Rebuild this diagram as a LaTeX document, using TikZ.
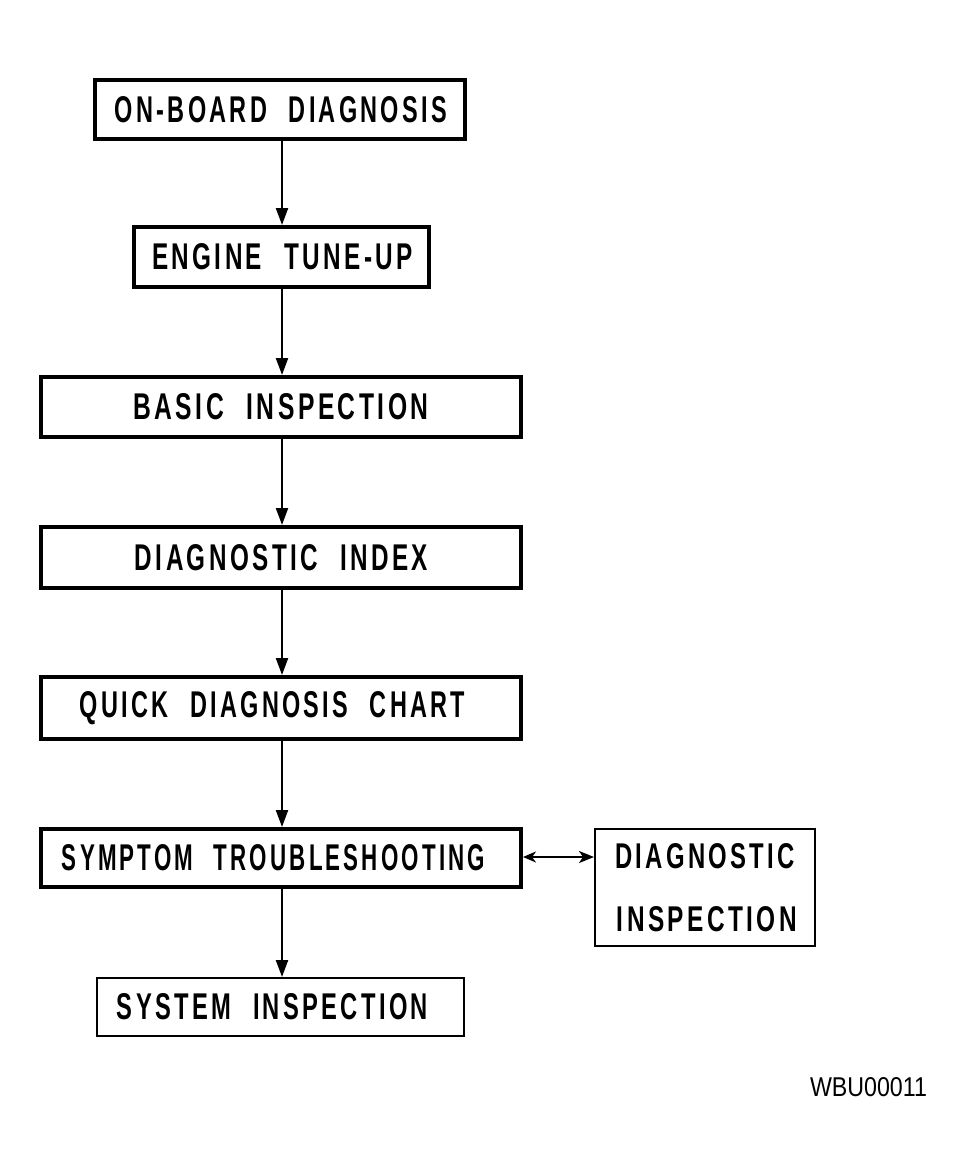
\documentclass[tikz,border=0pt]{standalone}
\usepackage{fontspec}
\setmainfont{Liberation Sans}
\newfontfamily\lblfont[LetterSpace=14,WordSpace=2.2]{Liberation Sans}
\usetikzlibrary{arrows.meta}
\newcommand\lbl[3]{\makebox[0pt]{\hspace*{#2}\resizebox{#1}{26pt}{\lblfont\bfseries #3}}}
\begin{document}
\begin{tikzpicture}[x=1pt,y=-1pt,
  thickbox/.style={draw=black,line width=4pt,minimum width=#1,inner sep=0pt,fill=none},
  thinbox/.style={draw=black,line width=2pt,inner sep=0pt},
  flowarrow/.style={line width=2.2pt,-{Triangle[length=17pt,width=12pt]}},
  sidearrow/.style={line width=2.2pt,{Stealth[length=13pt,width=11pt,inset=4pt]}-{Stealth[length=15pt,width=12pt,inset=4pt]}}]
\path[use as bounding box,fill=white] (0,0) rectangle (964,1172);

\node[thickbox=370pt,minimum height=59pt] (b1) at (280,109.5) {\lbl{332pt}{2pt}{ON-BOARD DIAGNOSIS}};
\node[thickbox=295pt,minimum height=60pt] (b2) at (281.5,257) {\lbl{261pt}{2pt}{ENGINE TUNE-UP}};
\node[thickbox=480pt,minimum height=60pt] (b3) at (281,407) {\lbl{295pt}{0pt}{BASIC INSPECTION}};
\node[thickbox=480pt,minimum height=61pt] (b4) at (281,557.5) {\lbl{293pt}{1pt}{DIAGNOSTIC INDEX}};
\node[thickbox=480pt,minimum height=62pt] (b5) at (281,708) {\lbl{385pt}{-17pt}{QUICK DIAGNOSIS CHART}};
\node[thickbox=480pt,minimum height=58pt] (b6) at (281,858) {\lbl{423pt}{-15pt}{SYMPTOM TROUBLESHOOTING}};
\node[thinbox,minimum width=220pt,minimum height=117pt,align=center] (b7) at (705,887.5)
  {\resizebox{180pt}{25pt}{\lblfont\bfseries DIAGNOSTIC}\\[37pt]\hspace*{4pt}\resizebox{180pt}{25pt}{\lblfont\bfseries INSPECTION}};
\node[thinbox,minimum width=367pt,minimum height=58pt] (b8) at (280.5,1007) {\lbl{311pt}{-16pt}{SYSTEM INSPECTION}};

\node[inner sep=0pt] (code) at (868.5,1087) {\resizebox{117pt}{19pt}{WBU00011}};

\coordinate (ax) at (282,0);
\draw[flowarrow] (b1.south -| ax) -- (b2.north -| ax);
\draw[flowarrow] (b2.south -| ax) -- (b3.north -| ax);
\draw[flowarrow] (b3.south -| ax) -- (b4.north -| ax);
\draw[flowarrow] (b4.south -| ax) -- (b5.north -| ax);
\draw[flowarrow] (b5.south -| ax) -- (b6.north -| ax);
\draw[flowarrow] (b6.south -| ax) -- (b8.north -| ax);
\coordinate (ay) at (0,857);
\draw[sidearrow] (b6.east |- ay) -- (b7.west |- ay);
\end{tikzpicture}
\end{document}
